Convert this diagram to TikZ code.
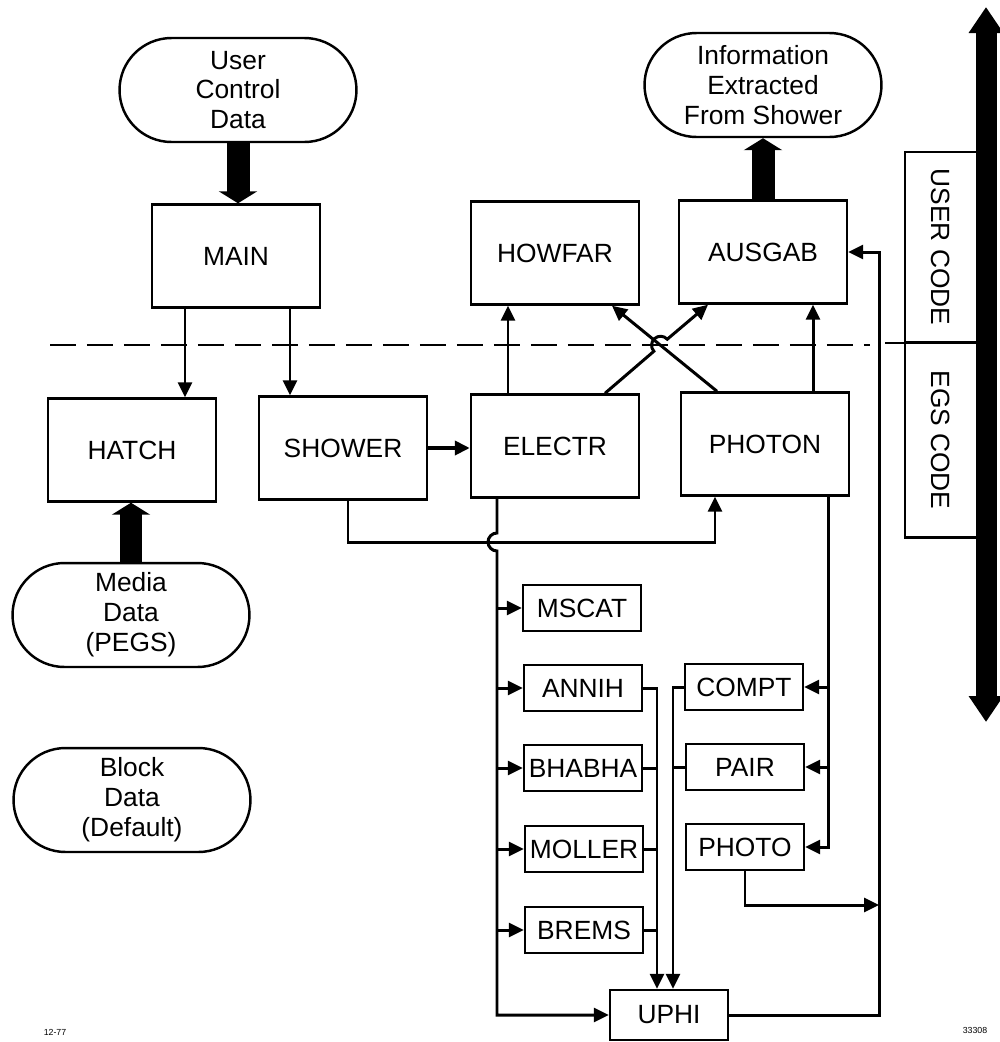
\documentclass[tikz,border=0pt]{standalone}
\usepackage{fontspec}
\setmainfont{Liberation Sans}
\usetikzlibrary{arrows.meta, shapes.misc, calc}

\begin{document}
\begin{tikzpicture}[
  x=0.02cm, y=-0.02cm,
  every node/.style={font=\fontsize{15}{17}\selectfont},
  box/.style={draw, line width=1.4pt, minimum width=3.36cm, minimum height=2.06cm, inner sep=0pt},
  small/.style={draw, line width=1.4pt, minimum width=2.36cm, minimum height=0.92cm, inner sep=0pt},
  pill/.style={draw, rounded rectangle, line width=1.4pt, align=center, minimum width=4.74cm, minimum height=2.08cm, inner sep=0pt},
  side/.style={draw, line width=1.4pt, rotate=-90, minimum height=1.44cm, inner sep=0pt},
  arrow/.style={-{Triangle[length=0.3cm, width=0.28cm]}, line width=1.7pt},
  link/.style={line width=1.7pt},
  fat/.style={-{Triangle[length=0.24cm, width=0.76cm]}, line width=0.46cm},
  both/.style={{Triangle[length=0.52cm, width=0.66cm]}-{Triangle[length=0.52cm, width=0.66cm]}, line width=0.42cm},
  dashline/.style={line width=1.4pt, dash pattern=on 0.52cm off 0.22cm}
]
\useasboundingbox (0,0) rectangle (1000,1042);

% data sources and sinks
\node[pill] (ucd) at (238,90) {User\\Control\\Data};
\node[pill] (info) at (763,85) {Information\\Extracted\\From Shower};
\node[pill] (media) at (131,615) {Media\\Data\\(PEGS)};
\node[pill] (block) at (132,800) {Block\\Data\\(Default)};

% main routines
\node[box] (main) at (236,256) {MAIN};
\node[box] (howfar) at (555,253) {HOWFAR};
\node[box] (ausgab) at (763,252) {AUSGAB};
\node[box] (hatch) at (132,450) {HATCH};
\node[box] (shower) at (343,448) {SHOWER};
\node[box] (electr) at (555,446) {ELECTR};
\node[box] (photon) at (765,444) {PHOTON};

% interaction routines
\node[small] (mscat) at (582,608) {MSCAT};
\node[small] (annih) at (583,688) {ANNIH};
\node[small] (bhabha) at (583,768) {BHABHA};
\node[small] (moller) at (584,849) {MOLLER};
\node[small] (brems) at (584,930) {BREMS};
\node[small] (compt) at (744,687) {COMPT};
\node[small] (pair) at (745,767) {PAIR};
\node[small] (photo) at (745,847) {PHOTO};
\node[small, minimum height=1cm] (uphi) at (669,1015) {UPHI};

% user code / egs code scale
\node[side, minimum width=3.8cm] (usercode) at (941,247) {USER CODE};
\node[side, minimum width=3.9cm] (egscode) at (941,440) {EGS CODE};
\coordinate (dl) at (50,345);
\coordinate (dr) at (870,345);
\coordinate (sl) at (885,343);
\coordinate (sr) at (977,343);
\coordinate (up) at (986,7);
\coordinate (down) at (986,722);
\draw[dashline] (dl) -- (dr);
\draw[line width=1.4pt] (sl) -- (sr);
\draw[both] (down) -- (up);

% fat data flows
\draw[fat] (ucd.south) -- (ucd.south |- main.north);
\draw[fat] (ausgab.north) -- (ausgab.north |- info.south);
\draw[fat] (media.north) -- (media.north |- hatch.south);

% calls from MAIN
\path (main.south) ++(-51,0) coordinate (m1);
\path (main.south) ++(54,0) coordinate (m2);
\draw[arrow] (m1) -- (m1 |- hatch.north);
\draw[arrow] (m2) -- (m2 |- shower.north);
\draw[arrow, line width=2.2pt] (shower.east) -- (shower.east -| electr.west);

% calls to user routines
\path (electr.north) ++(-47,0) coordinate (e1);
\path (photon.north) ++(48,0) coordinate (p1);
\draw[arrow] (e1) -- (e1 |- howfar.south);
\draw[arrow] (p1) -- (p1 |- ausgab.south);
\path (electr.north) ++(50,0) coordinate (ea);
\path (ausgab.south) ++(-55,0) coordinate (ab);
\path (photon.north) ++(-48,0) coordinate (pa);
\path (howfar.south) ++(57,0) coordinate (hb);
\coordinate (cx) at (intersection of ea--ab and pa--hb);
\draw[arrow] (pa) -- (hb);
\draw[arrow] (ea) -- ($(cx)!0.18cm!(ea)$) arc[start angle=222, end angle=42, radius=0.18cm] -- (ab);

% SHOWER to PHOTON, crossing the ELECTR bus
\path (shower.south) ++(5,0) coordinate (s1);
\path (photon.south) ++(-50,0) coordinate (p2);
\coordinate (jn) at (715,542);
\draw[arrow] (s1) |- (jn) -- (p2);

% ELECTR bus
\path (electr.south) ++(-58,0) coordinate (e2);
\draw[arrow] (e2) -- ($(e2 |- jn)+(0,-9)$) arc[start angle=90, end angle=270, radius=0.18cm] |- (uphi.west);
\foreach \n in {mscat,annih,bhabha,moller,brems}
  \draw[arrow] (\n.west -| e2) -- (\n.west);

% returns to UPHI
\path (uphi.north) ++(-12,0) coordinate (lb);
\path (uphi.north) ++(4,0) coordinate (rb);
\draw[arrow] (annih.east) -| (lb);
\foreach \n in {bhabha,moller,brems}
  \draw[link] (\n.east) -- (\n.east -| lb);
\draw[arrow] (compt.west) -| (rb);
\draw[link] (pair.west) -- (pair.west -| rb);

% PHOTON bus
\path (photon.south) ++(63,0) coordinate (p3);
\draw[arrow] (p3) |- (photo.east);
\foreach \n in {compt,pair}
  \draw[arrow] (\n.east -| p3) -- (\n.east);

% back to AUSGAB
\coordinate (ret) at (879,600);
\coordinate (phj) at (879,905);
\draw[arrow] (uphi.east) -| (ret) |- (ausgab.east);
\draw[arrow] (photo.south) |- (phj);

% plate numbers
\node[font=\fontsize{5}{6}\selectfont] (plate) at (55,1032) {12-77};
\node[font=\fontsize{5}{6}\selectfont] (fig) at (975,1030) {33308};
\end{tikzpicture}
\end{document}
